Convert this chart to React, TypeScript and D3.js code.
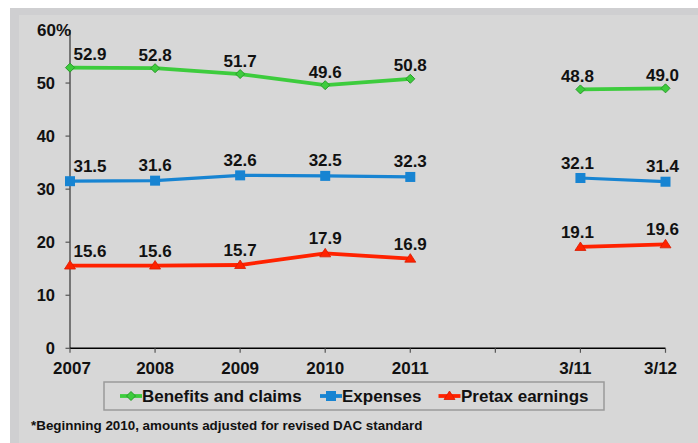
import React from "react";
import * as d3 from "d3";

const categories = ["2007", "2008", "2009", "2010", "2011", "", "3/11", "3/12"];
const benefits: (number | null)[] = [52.9, 52.8, 51.7, 49.6, 50.8, null, 48.8, 49.0];
const expenses: (number | null)[] = [31.5, 31.6, 32.6, 32.5, 32.3, null, 32.1, 31.4];
const pretax: (number | null)[] = [15.6, 15.6, 15.7, 17.9, 16.9, null, 19.1, 19.6];
const yTicks = [0, 10, 20, 30, 40, 50, 60];
const seriesNames = ["Benefits and claims", "Expenses", "Pretax earnings"];
const footnote = "*Beginning 2010, amounts adjusted for revised DAC standard";

const W = 698;
const H = 443;
const FONT = "'Liberation Sans', Arial, sans-serif";

const x = d3.scalePoint<string>().domain(categories.map((c, i) => c + "#" + i)).range([70, 665.5]);
const y = d3.scaleLinear().domain([0, 60]).range([348.3, 30]);

const colors = ["#3dcc3d", "#1784d2", "#ff2200"];
const markerStroke = ["#2a9a2a", "#1070b8", "#d81c00"];
const labelGap = [7.5, 9.5, 9];

function xp(i: number) {
  return x(categories[i] + "#" + i) as number;
}

function Marker({ kind, cx, cy }: { kind: number; cx: number; cy: number }) {
  if (kind === 0) {
    const r = 4.5;
    return (
      <path
        d={`M${cx},${cy - r}L${cx + r},${cy}L${cx},${cy + r}L${cx - r},${cy}Z`}
        fill={colors[0]}
        stroke={markerStroke[0]}
        strokeWidth={1}
      />
    );
  }
  if (kind === 1) {
    return <rect x={cx - 5} y={cy - 5} width={10} height={10} fill={colors[1]} />;
  }
  return (
    <path
      d={`M${cx},${cy - 5}L${cx + 5.5},${cy + 3.5}L${cx - 5.5},${cy + 3.5}Z`}
      fill={colors[2]}
      stroke={markerStroke[2]}
      strokeWidth={0.8}
    />
  );
}

export default function App() {
  const all = [benefits, expenses, pretax];
  const line = d3
    .line<{ i: number; v: number | null }>()
    .defined((d) => d.v !== null)
    .x((d) => xp(d.i))
    .y((d) => y(d.v as number));

  const legendItems = [
    { mx: 131, tx: 142 },
    { mx: 331, tx: 342 },
    { mx: 449.5, tx: 461 },
  ];

  return (
    <svg
      width={W}
      height={H}
      style={{ position: "absolute", left: 0, top: 0, fontFamily: FONT }}
    >
      <rect x={0} y={0} width={W} height={H} fill="#ffffff" />
      <rect x={10} y={8} width={W - 10} height={H - 8} fill="#cfcfd1" />
      <rect x={19} y={15} width={W - 19} height={H - 15} fill="#d7d7d7" />

      {/* y axis */}
      <line x1={70} x2={70} y1={30} y2={y(0)} stroke="#555" strokeWidth={1.5} />
      {yTicks.map((t) => (
        <g key={t}>
          <line x1={65.5} x2={70} y1={y(t)} y2={y(t)} stroke="#555" strokeWidth={1.2} />
          <text
            x={t === 60 ? 71 : 55}
            y={y(t) + 6}
            textAnchor="end"
            fontSize={t === 60 ? 17 : 16.5}
            fontWeight="bold"
            fill="#111"
          >
            {t === 60 ? "60%" : t}
          </text>
        </g>
      ))}

      {/* x axis */}
      <line x1={70} x2={665.5} y1={y(0)} y2={y(0)} stroke="#000" strokeWidth={1.5} />
      {categories.map((c, i) => (
        <g key={i}>
          <line x1={xp(i)} x2={xp(i)} y1={y(0)} y2={y(0) + 4.5} stroke="#555" strokeWidth={1.2} />
          {c && (
            <text
              x={xp(i) + (i === 0 ? 2 : i >= 6 ? -5 : 0)}
              y={374}
              textAnchor="middle"
              fontSize={17}
              fontWeight="bold"
              fill="#111"
            >
              {c}
            </text>
          )}
        </g>
      ))}

      {/* series */}
      {all.map((vals, s) => {
        const pts = vals.map((v, i) => ({ i, v }));
        return (
          <g key={s}>
            <path
              d={line(pts) || ""}
              fill="none"
              stroke={colors[s]}
              strokeWidth={s === 1 ? 3.2 : 3.8}
              strokeLinejoin="round"
            />
            {pts.map((p) =>
              p.v === null ? null : (
                <g key={p.i}>
                  <Marker kind={s} cx={xp(p.i)} cy={y(p.v)} />
                  <text
                    x={xp(p.i) + (p.i === 0 ? 20 : p.i >= 6 ? -3 : 0)}
                    y={y(p.v) - labelGap[s]}
                    textAnchor="middle"
                    fontSize={17}
                    fontWeight="bold"
                    fill="#111"
                  >
                    {p.v.toFixed(1)}
                  </text>
                </g>
              )
            )}
          </g>
        );
      })}

      {/* legend */}
      <rect x={104} y={382} width={500} height={28} fill="#d7d7d7" stroke="#9a9a9a" strokeWidth={1.5} />
      {legendItems.map((it, s) => (
        <g key={s}>
          <line x1={it.mx - 11} x2={it.mx + 11} y1={396} y2={396} stroke={colors[s]} strokeWidth={3.8} />
          <Marker kind={s} cx={it.mx} cy={396} />
          <text x={it.tx} y={402} fontSize={17} fontWeight="bold" fill="#111">
            {seriesNames[s]}
          </text>
        </g>
      ))}

      {/* footnote */}
      <text x={31} y={430} fontSize={13.4} fontWeight="bold" fill="#111">
        {footnote}
      </text>
    </svg>
  );
}
